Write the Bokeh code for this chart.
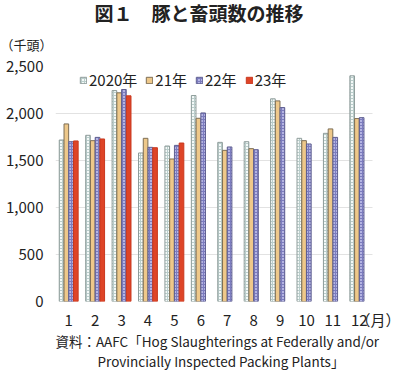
from bokeh.plotting import figure
from bokeh.models import ColumnDataSource, Range1d, FixedTicker, NumeralTickFormatter, Legend, LegendItem, Title
from bokeh.embed import file_html
from bokeh.resources import INLINE

months = [1, 2, 3, 4, 5, 6, 7, 8, 9, 10, 11, 12]
month_labels = ["1", "2", "3", "4", "5", "6", "7", "8", "9", "10", "11", "12"]
y2020 = [1718, 1768, 2244, 1580, 1654, 2191, 1693, 1700, 2156, 1736, 1789, 2401]
y2021 = [1889, 1711, 2220, 1736, 1516, 1949, 1608, 1626, 2134, 1711, 1836, 1946]
y2022 = [1700, 1746, 2255, 1640, 1661, 2006, 1644, 1615, 2063, 1676, 1746, 1956]
y2023 = [1708, 1729, 2188, 1636, 1686]
series_names = ["2020年", "21年", "22年", "23年"]
y_ticks = [0, 500, 1000, 1500, 2000, 2500]
month_unit = "（月）"
value_unit = "（千頭）"
title_text = "図１　豚と畜頭数の推移"
source_lines = ["資料：AAFC「Hog Slaughterings at Federally and/or",
                "Provincially Inspected Packing Plants」"]

FONT = "Noto Sans CJK JP"
TXT = "#222222"

p = figure(width=400, height=371, output_backend="svg", toolbar_location=None,
           x_range=Range1d(0.5, 13.56), y_range=Range1d(0, 2500),
           min_border_left=55, min_border_right=0, min_border_top=66, min_border_bottom=70)
p.outline_line_color = None

styles = [
    dict(fill_color="#F4F9F8", line_color="#8E9C9A", hatch_pattern="cross", hatch_color="#BACDCB", hatch_scale=3, hatch_weight=1),
    dict(fill_color="#EEC88A", line_color="#7D6E55"),
    dict(fill_color="#B4B4E2", line_color="#5F5F90", hatch_pattern="cross", hatch_color="#7C7CBE", hatch_scale=3, hatch_weight=1),
    dict(fill_color="#DE4427", line_color="#C9381E"),
]
offsets = [-0.27, -0.09, 0.09, 0.27]
data = [y2020, y2021, y2022, y2023]

items = []
for name, vals, off, st in zip(series_names, data, offsets, styles):
    xs = [m + off for m in months[:len(vals)]]
    src = ColumnDataSource(dict(x=xs, top=vals))
    r = p.vbar(x="x", top="top", width=0.175, bottom=0, source=src, line_width=1, **st)
    items.append(LegendItem(label=name, renderers=[r]))

legend = Legend(items=items, orientation="horizontal", location=(24, 211),
                label_text_font=FONT, label_text_font_size="15px", label_text_color=TXT,
                glyph_width=8, glyph_height=8, label_standoff=2, spacing=8,
                padding=0, margin=0, border_line_color=None, background_fill_alpha=0)
p.add_layout(legend, "center")

# x axis: month ticks plus the unit label after 12
x_ticks = months + [12.93]
p.xaxis.ticker = FixedTicker(ticks=x_ticks)
overrides = {m: l for m, l in zip(months, month_labels)}
overrides[12.93] = month_unit
p.xaxis.major_label_overrides = overrides
p.xaxis.major_tick_line_color = None
p.xaxis.minor_tick_line_color = None
p.xaxis.major_tick_out = 0
p.xaxis.minor_tick_out = 0
p.xaxis.axis_line_color = None
p.xaxis.major_label_text_font = FONT
p.xaxis.major_label_text_font_size = "15px"
p.xaxis.major_label_text_color = TXT
p.xaxis.major_label_standoff = 7

p.yaxis.ticker = FixedTicker(ticks=y_ticks)
p.yaxis.formatter = NumeralTickFormatter(format="0,0")
p.yaxis.major_tick_line_color = None
p.yaxis.minor_tick_line_color = None
p.yaxis.major_tick_out = 0
p.yaxis.minor_tick_out = 0
p.yaxis.axis_line_color = None
p.yaxis.major_label_text_font = FONT
p.yaxis.major_label_text_font_size = "15px"
p.yaxis.major_label_text_color = TXT
p.yaxis.major_label_standoff = 12

p.xgrid.grid_line_color = None
p.ygrid.grid_line_color = "#E2E2E2"
p.ygrid.grid_line_width = 1
p.ygrid.cross_bounds = (0.5, 12.5)

# texts outside the plot area
p.title.text = title_text
p.title.align = "left"
p.title.offset = 39
p.title.text_font = FONT
p.title.text_font_size = "19px"
p.title.text_font_style = "bold"
p.title.text_color = TXT
p.title.standoff = -10

p.add_layout(Title(text=value_unit, align="left", offset=-55, text_font=FONT,
                   text_font_size="13px", text_font_style="normal", text_color=TXT,
                   standoff=25), "above")
p.add_layout(Title(text=source_lines[0], align="left", offset=0, text_font=FONT,
                   text_font_size="13.5px", text_font_style="normal", text_color=TXT,
                   standoff=-7), "below")
p.add_layout(Title(text=source_lines[1], align="left", offset=42, text_font=FONT,
                   text_font_size="13.5px", text_font_style="normal", text_color=TXT,
                   standoff=2), "below")

open("out.html", "w").write(file_html(p, INLINE))
